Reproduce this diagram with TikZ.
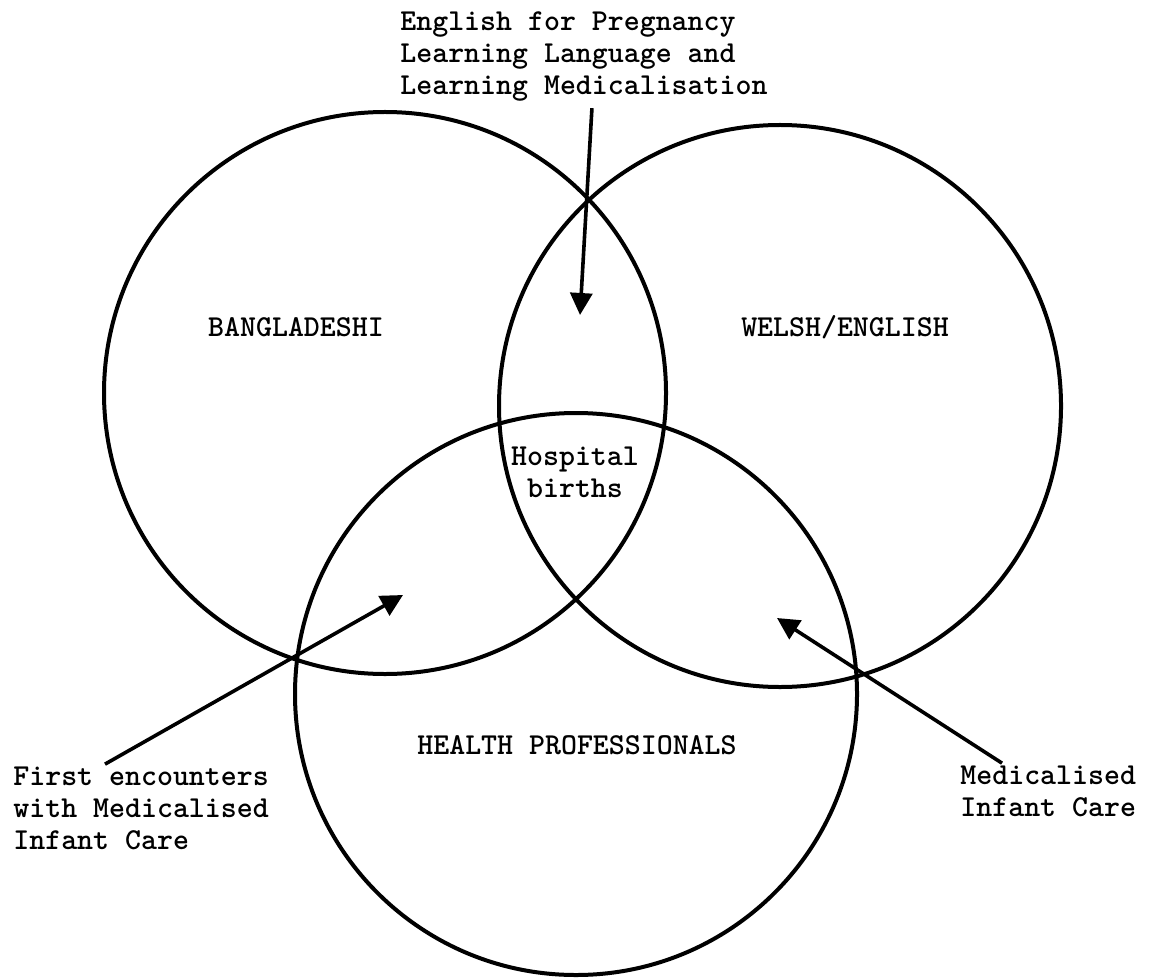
\documentclass[tikz,border=0pt]{standalone}
\usepackage{fontspec}
\newfontfamily\typefont{lmmonolt10-bold.otf}
\usetikzlibrary{arrows.meta}
\tikzset{
  venn/.style={line width=2pt},
  lbl/.style={inner sep=0pt, font=\typefont\fontsize{15.2}{16}\selectfont},
  arr/.style={line width=1.8pt, -{Triangle[length=11pt,width=11pt]}}
}
\begin{document}
\begin{tikzpicture}[x=0.5pt,y=-0.5pt]
\useasboundingbox (0,0) rectangle (1159,978);
% the three groups
\draw[venn] (385,393) circle (281);
\draw[venn] (780,406) circle (281);
\draw[venn] (576,694) circle (281);
\node[lbl] (bangla) at (296,327) {BANGLADESHI};
\node[lbl] (welsh) at (845,327) {WELSH/ENGLISH};
\node[lbl] (health) at (577,745) {HEALTH PROFESSIONALS};
\node[lbl, align=center] (births) at (575,472) {Hospital\\births};
% labels outside
\node[lbl, align=left, anchor=west] (toplbl) at (400,57)
  {English for Pregnancy\\Learning Language and\\Learning Medicalisation};
\node[lbl, align=left, anchor=west] (leftlbl) at (13,808)
  {First encounters\\with Medicalised\\Infant Care};
\node[lbl, align=left, anchor=west] (rightlbl) at (960,791)
  {Medicalised\\Infant Care};
\coordinate (tipTop) at (580,315);
\coordinate (tipLeft) at (403,595);
\coordinate (tipRight) at (777,618);
\draw[arr] ([xshift=4pt,yshift=-3pt]toplbl.south) -- (tipTop);
\draw[arr] ([xshift=46pt,yshift=1pt]leftlbl.north west) -- (tipLeft);
\draw[arr] ([xshift=21pt,yshift=1pt]rightlbl.north west) -- (tipRight);
\end{tikzpicture}
\end{document}
